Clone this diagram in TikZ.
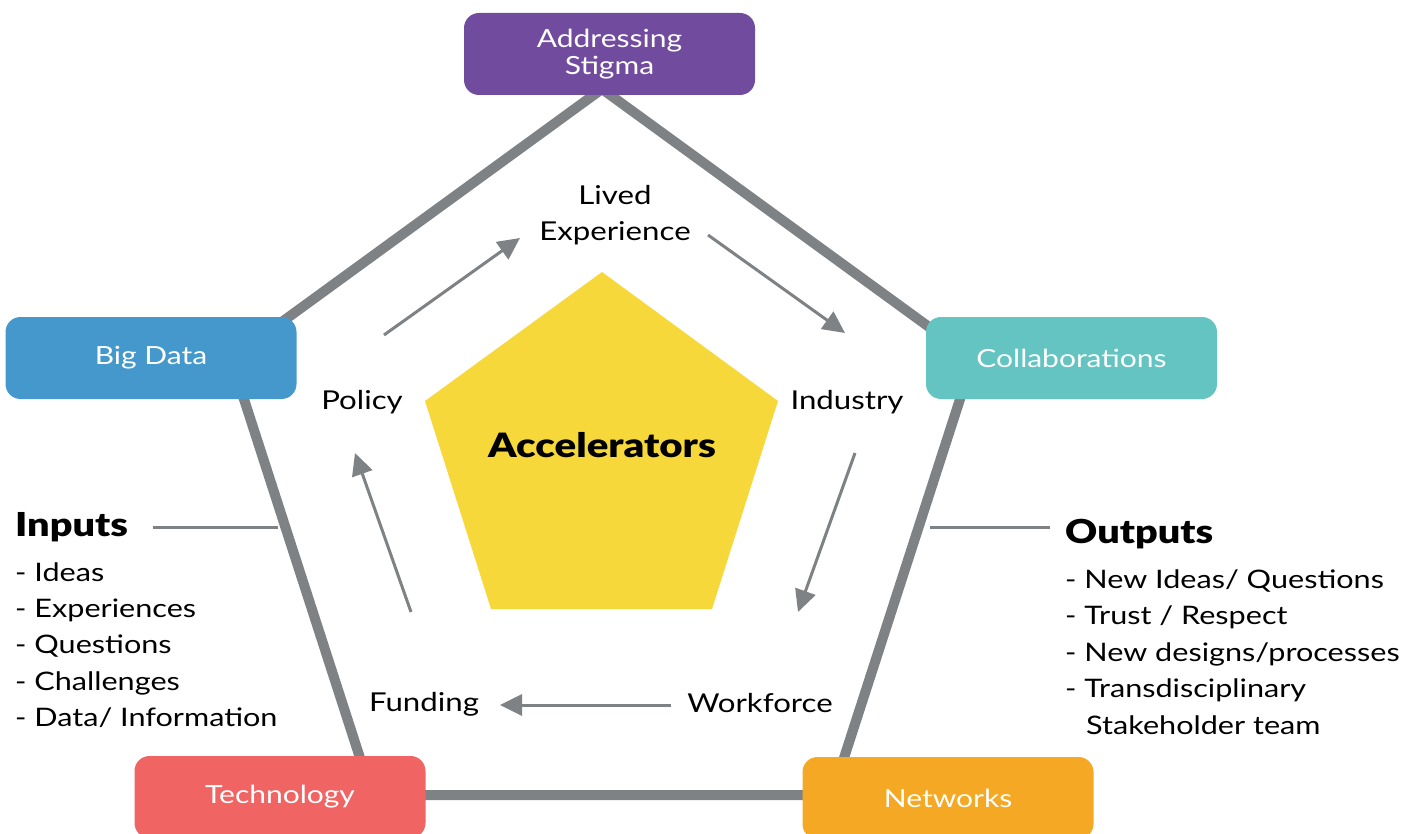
\documentclass[tikz,border=0pt]{standalone}
\usepackage{fontspec}
\setmainfont{Lato}[FakeStretch=1.2, BoldFont={Lato Black}]
\usetikzlibrary{arrows.meta}
\definecolor{edgegray}{HTML}{7F8285}
\definecolor{cpurple}{HTML}{714C9E}
\definecolor{cblue}{HTML}{4598CC}
\definecolor{cteal}{HTML}{63C4C2}
\definecolor{cred}{HTML}{F06464}
\definecolor{corange}{HTML}{F4A823}
\definecolor{cyellow}{HTML}{F7D83B}
\tikzset{
  box/.style={rounded corners=15pt, minimum width=291pt, minimum height=82pt, inner sep=0pt,
    text=white, align=center, font=\fontsize{25}{29}\selectfont},
  lbl/.style={inner sep=0pt, align=center, font=\fontsize{26}{36.5}\selectfont},
  item/.style={inner sep=0pt, anchor=base west, font=\fontsize{25.5}{30}\selectfont},
  head/.style={inner sep=0pt, anchor=base west, font=\bfseries\fontsize{33}{40}\selectfont},
  rim/.style={draw=edgegray, line width=10pt, line join=miter},
  flow/.style={draw=edgegray, line width=3pt, -{Triangle[length=22pt,width=21pt]}},
  tick/.style={draw=edgegray, line width=3pt}
}
\begin{document}
\begin{tikzpicture}[x=1pt,y=-1pt]
\useasboundingbox (0,0) rectangle (1421,834);
\clip (0,0) rectangle (1421,834);
% outer pentagon
\coordinate (vT) at (602,89);
\coordinate (vL) at (231,359);
\coordinate (vR) at (973,359);
\coordinate (vBL) at (372,795);
\coordinate (vBR) at (832,795);
\draw[rim] (vT) -- (vR) -- (vBR) -- (vBL) -- (vL) -- cycle;
% inner yellow pentagon
\fill[cyellow] (602,272) -- (778,401) -- (712,609) -- (491,609) -- (425,401) -- cycle;
\node[font=\bfseries\fontsize{33.5}{40}\selectfont, inner sep=0pt] (acc) at (602,445) {Accelerators};
% boxes
\node[box, fill=cpurple] (stigma) at (609.5,54) {Addressing\\[-2pt]Stigma};
\node[box, fill=cblue] (bigdata) at (151,358) {Big Data};
\node[box, fill=cteal] (collab) at (1071.5,358) {Collaborations};
\node[box, fill=cred] (tech) at (280,797) {Technology};
\node[box, fill=corange] (netw) at (948,798) {Networks};
% cycle labels
\node[lbl] (lived) at (615,215) {Lived\\Experience};
\node[lbl] (policy) at (362,402) {Policy};
\node[lbl] (industry) at (847,402) {Industry};
\node[lbl] (workforce) at (760,703) {Workforce};
\node[lbl] (funding) at (424,704) {Funding};
% flow arrows
\coordinate (a1s) at (384,335); \coordinate (a1e) at (520,238);
\coordinate (a2s) at (708,235); \coordinate (a2e) at (845,333);
\coordinate (a3s) at (855,453); \coordinate (a3e) at (798,612);
\coordinate (a4s) at (671,705); \coordinate (a4e) at (500,705);
\coordinate (a5s) at (411,612); \coordinate (a5e) at (355,453);
\draw[flow] (a1s) -- (a1e);
\draw[flow] (a2s) -- (a2e);
\draw[flow] (a3s) -- (a3e);
\draw[flow] (a4s) -- (a4e);
\draw[flow] (a5s) -- (a5e);
% inputs
\node[head] (inputs) at (15,536) {Inputs};
\coordinate (inL) at (153,527); \coordinate (inR) at (278,527);
\draw[tick] (inL) -- (inR);
\node[item] (in1) at (15,581) {- Ideas};
\node[item] (in2) at (15,617) {- Experiences};
\node[item] (in3) at (15,653) {- Questions};
\node[item] (in4) at (15,690) {- Challenges};
\node[item] (in5) at (15,726) {- Data/ Information};
% outputs
\node[head] (outputs) at (1065,543) {Outputs};
\coordinate (outL) at (930,527); \coordinate (outR) at (1050,527);
\draw[tick] (outL) -- (outR);
\node[item] (out1) at (1065,588) {- New Ideas/ Questions};
\node[item] (out2) at (1065,624) {- Trust / Respect};
\node[item] (out3) at (1065,661) {- New designs/processes};
\node[item] (out4) at (1065,697) {- Transdisciplinary};
\node[item] (out5) at (1086,734) {Stakeholder team};
\end{tikzpicture}
\end{document}
